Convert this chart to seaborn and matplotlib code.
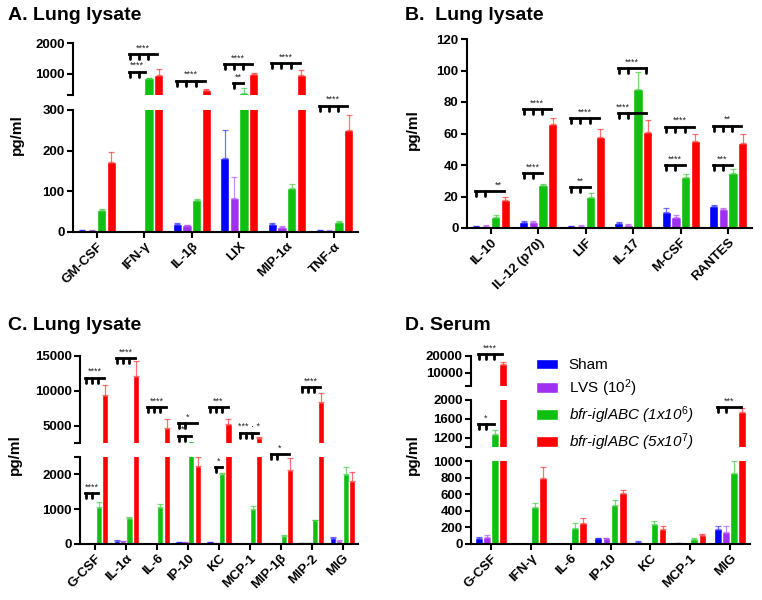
import numpy as np
import pandas as pd
import matplotlib.pyplot as plt
import seaborn as sns

# -------------------------
# Data
# -------------------------
groups = ["Sham", "LVS (10$^{2}$)", "bfr-iglABC (1x10$^{6}$)", "bfr-iglABC (5x10$^{7}$)"]
colors = ["#0000FF", "#A030F0", "#10C010", "#FF0000"]

# A. Lung lysate
a_cats = ["GM-CSF", "IFN-γ", "IL-1β", "LIX", "MIP-1α", "TNF-α"]
a_sham = [5, 0, 20, 182, 20, 4]
a_lvs = [5, 0, 16, 83, 12, 3]
a_low = [55, 846, 78, 355, 107, 25]
a_high = [172, 944, 470, 990, 960, 250]
a_sham_err = [1, 0, 3, 68, 3, 1]
a_lvs_err = [1, 0, 1, 52, 3, 1]
a_low_err = [2, 20, 3, 165, 11, 1]
a_high_err = [25, 196, 35, 30, 157, 37]

# B. Lung lysate
b_cats = ["IL-10", "IL-12 (p70)", "LIF", "IL-17", "M-CSF", "RANTES"]
b_sham = [1, 4, 1, 3, 10, 14]
b_lvs = [1.5, 4, 1.5, 2, 7, 12]
b_low = [7, 27, 20, 88, 32.5, 35]
b_high = [18, 66, 58, 61, 55, 54]
b_sham_err = [0.5, 0.3, 0.3, 1, 3, 0.5]
b_lvs_err = [0.5, 0.3, 0.3, 0.5, 1.5, 1]
b_low_err = [1.2, 0.8, 2.5, 11, 1.5, 2.5]
b_high_err = [1.5, 4, 5, 7.5, 4.5, 6]

# C. Lung lysate
c_cats = ["G-CSF", "IL-1α", "IL-6", "IP-10", "KC", "MCP-1", "MIP-1β", "MIP-2", "MIG"]
c_sham = [0, 100, 0, 60, 50, 0, 0, 30, 160]
c_lvs = [0, 80, 0, 55, 30, 0, 0, 20, 100]
c_low = [1050, 750, 1050, 2800, 2000, 1020, 240, 680, 2000]
c_high = [9400, 12100, 4700, 2230, 5200, 3250, 2130, 8400, 1800]
c_sham_err = [0, 20, 0, 5, 10, 0, 0, 5, 40]
c_lvs_err = [0, 10, 0, 5, 5, 0, 0, 5, 20]
c_low_err = [170, 20, 100, 0, 40, 80, 10, 20, 200]
c_high_err = [1400, 2200, 1300, 270, 800, 100, 350, 1300, 280]

# D. Serum
d_cats = ["G-CSF", "IFN-γ", "IL-6", "IP-10", "KC", "MCP-1", "MIG"]
d_sham = [70, 0, 0, 70, 30, 10, 175]
d_lvs = [90, 0, 0, 70, 0, 0, 150]
d_low = [1270, 440, 190, 475, 245, 65, 860]
d_high = [15000, 790, 250, 615, 185, 110, 1750]
d_sham_err = [10, 0, 0, 5, 5, 3, 45]
d_lvs_err = [20, 0, 0, 5, 0, 0, 70]
d_low_err = [100, 50, 60, 55, 30, 5, 140]
d_high_err = [1600, 140, 60, 35, 30, 15, 80]

# significance brackets: (segment, category, tick bars, end bar, height, label[, label bar pos])
a_brackets = [
    (0, 1, [0, 1, 2], 3, 1630, "****"),
    (0, 1, [0, 1], 1.7, 1062, "****"),
    (0, 2, [0, 1, 2], 3, 768, "****"),
    (0, 3, [0, 1, 2], 3, 1313, "****"),
    (0, 3, [1], 2, 700, "**"),
    (0, 4, [0, 1, 2], 3, 1330, "****"),
    (1, 5, [0, 1, 2], 3, 311, "****"),
]
b_brackets = [
    (0, 0, [0, 1], 3, 23.5, "**", 2.4),
    (0, 1, [0, 1, 2], 3, 75.6, "****"),
    (0, 1, [0, 1], 2, 34.7, "****"),
    (0, 2, [0, 1, 2], 3, 69.6, "****"),
    (0, 2, [0, 1], 2, 26.2, "**"),
    (0, 3, [0, 1, 3], 3, 101.4, "****"),
    (0, 3, [0, 1], 3, 72.8, "****", 0.4),
    (0, 4, [0, 1, 2], 3, 64.3, "****"),
    (0, 4, [0, 1], 2, 40, "****"),
    (0, 5, [0, 1, 2], 3, 65, "**"),
    (0, 5, [0, 1], 2, 40, "***"),
]
c_brackets = [
    (0, 0, [0, 1, 2], 3, 11900, "****"),
    (1, 0, [0, 1], 2, 1457, "****"),
    (0, 1, [0, 1, 2], 3, 14670, "****"),
    (0, 2, [0, 1, 2], 3, 7630, "****"),
    (0, 3, [0, 1], 3, 5330, "*"),
    (0, 3, [0, 1], 2, 3550, "**"),
    (0, 4, [0, 1, 2], 3, 7630, "***"),
    (1, 4, [1], 2, 2220, "*"),
    (0, 5, [0, 1, 2], 3, 4000, "*** · *"),
    (1, 6, [0, 1], 3, 2586, "*"),
    (0, 7, [0, 1, 2], 3, 10500, "****"),
]
d_brackets = [
    (0, 0, [0, 1, 2], 3, 21000, "****"),
    (1, 0, [0, 1], 2, 1489, "*"),
    (1, 6, [0, 1], 3, 1845, "***"),
]

# -------------------------
# Style
# -------------------------
sns.set_style("ticks")
plt.rcParams["font.family"] = ["Liberation Sans", "DejaVu Sans"]
plt.rcParams["mathtext.fontset"] = "custom"
plt.rcParams["mathtext.rm"] = "Liberation Sans"
plt.rcParams["mathtext.it"] = "Liberation Sans:italic"
plt.rcParams["axes.linewidth"] = 1.5
for key in ["text.color", "axes.edgecolor", "axes.labelcolor", "xtick.color", "ytick.color"]:
    plt.rcParams[key] = "black"

W, H = 762, 600
fig = plt.figure(figsize=(W / 100, H / 100), dpi=100)


def draw_panel(x0, x1, segs, cats, vals, errs, brackets, legend=False):
    df = pd.DataFrame({
        "cytokine": np.tile(cats, 4),
        "group": np.repeat(groups, len(cats)),
        "value": np.concatenate(vals),
    })
    axes = []
    for k, (lo, hi, ytop, ybot, ticks, labels) in enumerate(segs):
        ax = fig.add_axes([x0 / W, 1 - ybot / H, (x1 - x0) / W, (ybot - ytop) / H])
        last = k == len(segs) - 1
        sns.barplot(data=df, x="cytokine", y="value", hue="group", order=cats,
                    hue_order=groups, palette=colors, saturation=1, width=0.82,
                    gap=0.05, errorbar=None, legend=legend and last, ax=ax)
        bars = list(ax.containers)[:4]
        for j, cont in enumerate(bars):
            m = np.array(vals[j], dtype=float)
            e = np.array(errs[j], dtype=float)
            xs = np.array([b.get_x() + b.get_width() / 2 for b in cont])
            # only bars whose top lies inside this segment get an error bar here
            keep = (m >= lo) & (m <= hi) & (e > 0)
            if keep.any():
                ax.errorbar(xs[keep], m[keep], yerr=[np.zeros(keep.sum()), e[keep]], fmt="none",
                            ecolor=colors[j], alpha=0.55, elinewidth=0.9, capsize=2, capthick=0.9)
        ax.set_xlim(-0.5, len(cats) - 0.5)
        ax.set_ylim(lo, hi)
        ax.set_yticks(ticks)
        ax.set_yticklabels(labels, fontsize=9.5, fontweight="bold")
        ax.set_xlabel("")
        ax.set_ylabel("")
        sns.despine(ax=ax)
        ax.tick_params(axis="both", width=1.5, length=4, pad=2)
        if not last:
            ax.spines["bottom"].set_visible(False)
            ax.tick_params(axis="x", bottom=False, labelbottom=False)
        else:
            ax.set_xticks(range(len(cats)))
            ax.set_xticklabels(cats, rotation=45, ha="right", rotation_mode="anchor",
                               fontsize=9.5, fontweight="bold")
        axes.append(ax)

    for br in brackets:
        seg, ci, tks, end, y, label = br[:6]
        ax = axes[seg]
        lo, hi, ytop, ybot = segs[seg][:4]
        unit = (hi - lo) / (ybot - ytop)
        conts = list(ax.containers)[:4]
        b0 = conts[0][ci]

        def bx(j):
            return b0.get_x() + (j + 0.5) * b0.get_width()

        xa, xb = bx(min(tks)) - 0.02, bx(end)
        ax.plot([xa, xb], [y, y], color="black", lw=2, clip_on=False, solid_capstyle="projecting")
        for t in tks:
            ax.plot([bx(t), bx(t)], [y, y - 5 * unit], color="black", lw=2, clip_on=False)
        xl = bx(br[6]) if len(br) > 6 else (xa + xb) / 2
        ax.text(xl, y + 1.5 * unit, label, ha="center", va="bottom", fontsize=6.5,
                color="#222222", clip_on=False)
    return axes


# -------------------------
# Panels
# -------------------------
draw_panel(73, 358,
           [(300, 2000, 43, 95, [300, 1000, 2000], ["", "1000", "2000"]),
            (0, 300, 110, 232, [0, 100, 200, 300], ["0", "100", "200", "300"])],
           a_cats, [a_sham, a_lvs, a_low, a_high],
           [a_sham_err, a_lvs_err, a_low_err, a_high_err], a_brackets)

draw_panel(467, 752,
           [(0, 120, 39, 228, list(range(0, 121, 20)), [str(v) for v in range(0, 121, 20)])],
           b_cats, [b_sham, b_lvs, b_low, b_high],
           [b_sham_err, b_lvs_err, b_low_err, b_high_err], b_brackets)

draw_panel(80, 358,
           [(2500, 15000, 356, 443, [2500, 5000, 10000, 15000], ["", "5000", "10000", "15000"]),
            (0, 2500, 457, 544, [0, 1000, 2000, 2500], ["0", "1000", "2000", ""])],
           c_cats, [c_sham, c_lvs, c_low, c_high],
           [c_sham_err, c_lvs_err, c_low_err, c_high_err], c_brackets)

d_axes = draw_panel(471, 750,
                    [(2000, 20000, 356, 386, [2000, 10000, 20000], ["", "10000", "20000"]),
                     (1000, 2000, 400, 447, [1000, 1200, 1600, 2000], ["", "1200", "1600", "2000"]),
                     (0, 1000, 461, 544, list(range(0, 1001, 200)), [str(v) for v in range(0, 1001, 200)])],
                    d_cats, [d_sham, d_lvs, d_low, d_high],
                    [d_sham_err, d_lvs_err, d_low_err, d_high_err], d_brackets, legend=True)

# legend
ax_leg = d_axes[-1]
handles, labels = ax_leg.get_legend_handles_labels()
ax_leg.get_legend().remove()
leg = fig.legend(handles, labels, loc="upper left", bbox_to_anchor=(536 / W, 1 - 358 / H),
                 frameon=False, fontsize=11, handlelength=1.45, handleheight=0.65,
                 handletextpad=0.7, labelspacing=0.35, borderpad=0, borderaxespad=0)
for t in leg.get_texts()[2:]:
    t.set_fontstyle("italic")

# titles and axis labels
for x, y, s in [(8, 15, "A. Lung lysate"), (405, 15, "B.  Lung lysate"),
                (8, 325, "C. Lung lysate"), (405, 325, "D. Serum")]:
    fig.text(x / W, 1 - y / H, s, fontsize=14, fontweight="bold", va="center", ha="left")
for x, y in [(17, 135), (413, 130), (15, 455), (413, 455)]:
    fig.text(x / W, 1 - y / H, "pg/ml", fontsize=11, fontweight="bold", rotation=90,
             va="center", ha="center")

fig.savefig("out.png", dpi=100)
